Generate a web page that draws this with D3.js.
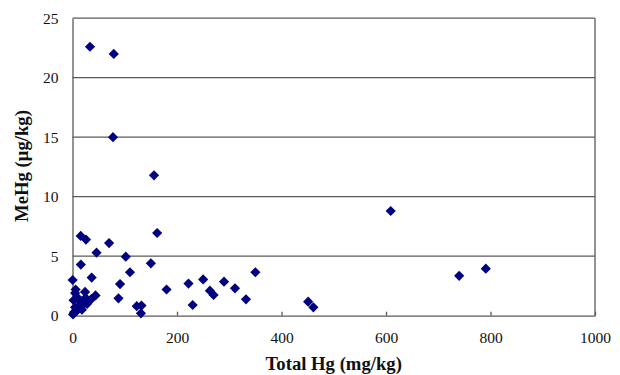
<!DOCTYPE html>
<html>
<head>
<meta charset="utf-8">
<script src="https://cdn.jsdelivr.net/npm/d3@7"></script>
<style>
  html, body { margin: 0; padding: 0; background: #fff; }
  svg { display: block; }
  svg text { font-family: 'Liberation Serif', 'Times New Roman', serif; }
</style>
</head>
<body>
<svg id="chart" width="620" height="375"></svg>
<script>
// Data: Total Hg (mg/kg) vs MeHg (µg/kg)
const totalHg = [
  33.5, 79, 77.5, 156, 162, 609, 740, 791,
  15.7, 25.8, 70, 46, 102, 16, 150, 110, 36.7, 0.3, 91, 180, 88, 123, 132, 131,
  222, 250, 290, 350, 263, 270, 311, 332, 230, 451, 461,
  1, 3, 5, 8, 12, 2, 5, 10, 15, 20, 25, 28, 24, 36, 44, 18, 6
];
const meHg = [
  22.6, 22.0, 15.0, 11.8, 6.95, 8.8, 3.35, 3.95,
  6.7, 6.4, 6.1, 5.3, 4.96, 4.3, 4.4, 3.65, 3.2, 3.0, 2.66, 2.2, 1.46, 0.8, 0.85, 0.2,
  2.7, 3.05, 2.86, 3.65, 2.1, 1.74, 2.3, 1.38, 0.9, 1.18, 0.7,
  0.1, 0.3, 0.7, 0.4, 0.8, 1.3, 1.9, 1.5, 1.2, 0.9, 1.5, 1.0, 2.0, 1.4, 1.7, 0.5, 2.2
];
const xTicks = [0, 200, 400, 600, 800, 1000];
const yTicks = [0, 5, 10, 15, 20, 25];
const xTitle = "Total Hg (mg/kg)";
const yTitle = "MeHg (\u03bcg/kg)";

(function () {
const svg = d3.select("#chart");
const mL = 72.5, mR = 595, mT = 18.2, mB = 315.7;

const x = d3.scaleLinear().domain([0, 1000]).range([mL, mR]);
const y = d3.scaleLinear().domain([0, 25]).range([mB, mT]);

const font = "'Liberation Serif', 'Times New Roman', serif";
const gridColor = "#5a5a5a";

// Gridlines
svg.append("g")
  .selectAll("line")
  .data(yTicks.filter(d => d > 0))
  .join("line")
  .attr("x1", mL).attr("x2", mR)
  .attr("y1", d => y(d)).attr("y2", d => y(d))
  .attr("stroke", gridColor).attr("stroke-width", 1.3);

// Right border
svg.append("line")
  .attr("x1", mR).attr("x2", mR)
  .attr("y1", mT).attr("y2", mB)
  .attr("stroke", gridColor).attr("stroke-width", 1.3);

// X axis (ticks pointing inward)
const xAxis = svg.append("g")
  .attr("transform", `translate(0,${mB})`)
  .call(d3.axisBottom(x).tickValues(xTicks).tickSizeInner(-4).tickSizeOuter(0).tickPadding(16).tickFormat(d3.format("d")));
xAxis.attr("font-family", font);
xAxis.select(".domain").attr("stroke", gridColor).attr("stroke-width", 1.3);
xAxis.selectAll(".tick line").attr("stroke", gridColor).attr("stroke-width", 1.3);
xAxis.selectAll("text").style("font-family", font).style("font-size", "15.5px").attr("fill", "#111");

// Y axis
const yAxis = svg.append("g")
  .attr("transform", `translate(${mL},0)`)
  .call(d3.axisLeft(y).tickValues(yTicks).tickSize(0).tickPadding(14).tickFormat(d3.format("d")));
yAxis.attr("font-family", font);
yAxis.select(".domain").attr("stroke", gridColor).attr("stroke-width", 1.3);
yAxis.selectAll("text").style("font-family", font).style("font-size", "15.5px").attr("fill", "#111");

// Points (diamonds)
const diamond = d3.symbol().type(d3.symbolSquare).size(52);
svg.append("g")
  .selectAll("path")
  .data(totalHg.map((v, i) => [v, meHg[i]]))
  .join("path")
  .attr("d", diamond)
  .attr("transform", d => `translate(${x(d[0])},${y(d[1])}) rotate(45)`)
  .attr("fill", "#000080");

// Axis titles
svg.append("text")
  .attr("x", (mL + mR) / 2).attr("y", 370)
  .attr("text-anchor", "middle")
  .style("font-family", font).style("font-size", "18.7px").attr("font-weight", "bold")
  .attr("fill", "#111")
  .text(xTitle);

svg.append("text")
  .attr("transform", `translate(28,166) rotate(-90)`)
  .attr("text-anchor", "middle")
  .style("font-family", font).style("font-size", "18.7px").attr("font-weight", "bold")
  .attr("fill", "#111")
  .text(yTitle);
})();
</script>
</body>
</html>
